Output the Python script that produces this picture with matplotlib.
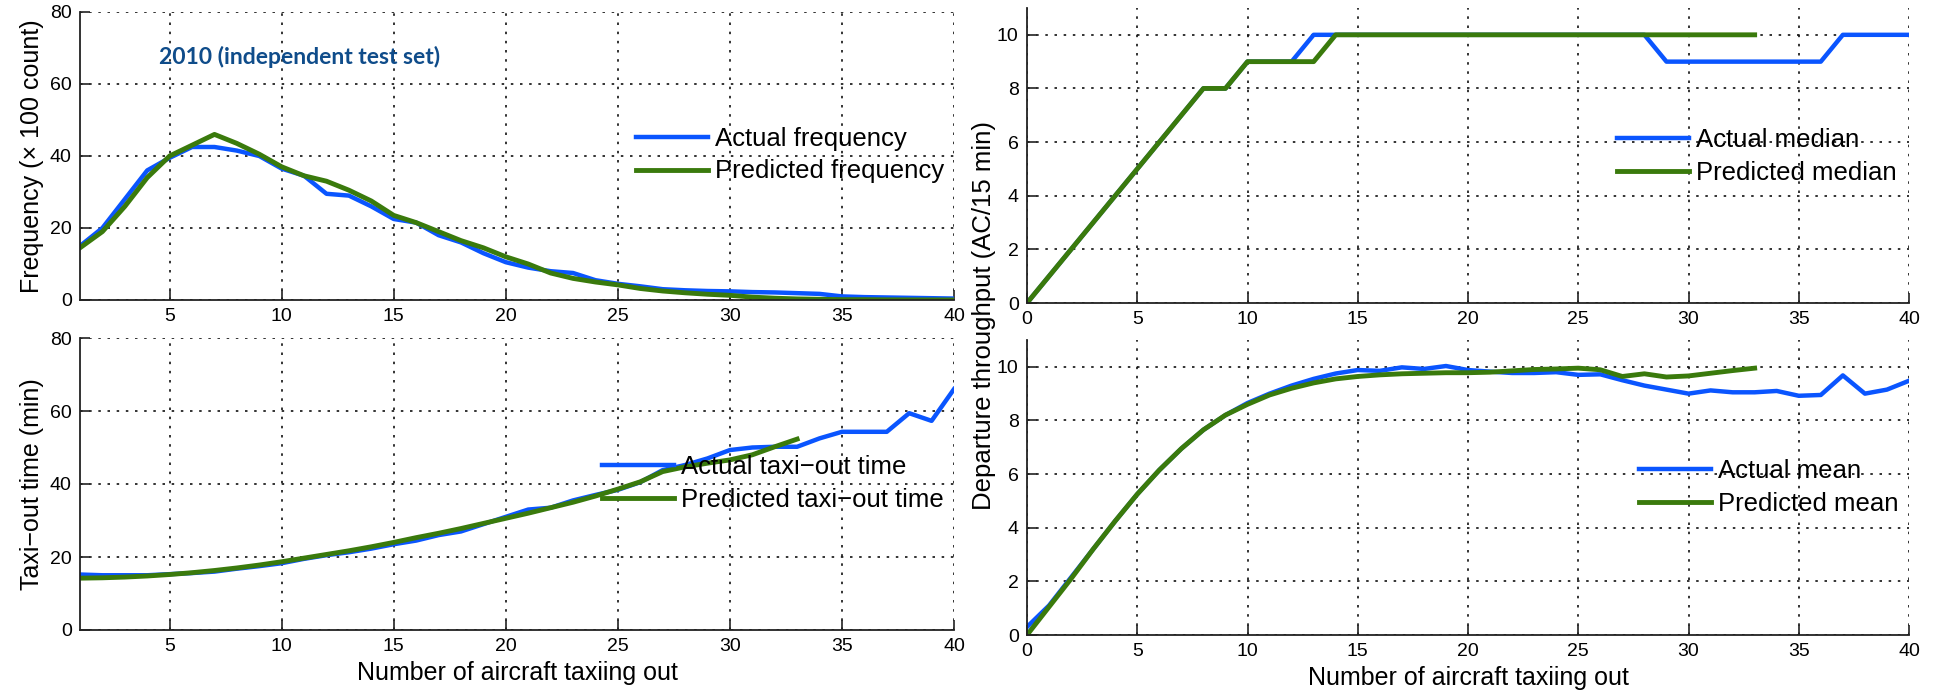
import matplotlib
matplotlib.use('Agg')
import matplotlib.pyplot as plt

plt.rcParams['font.family'] = ['Liberation Sans', 'DejaVu Sans']

# Daten
x_left = list(range(1, 41))
freq_actual = [15, 20, 28, 36, 39.5, 42.5, 42.5, 41.5, 40, 36.5,
               34.5, 29.5, 29, 26, 22.5, 21.5, 18, 16, 13, 10.5,
               9, 8, 7.5, 5.5, 4.5, 3.8, 3, 2.7, 2.5, 2.4,
               2.2, 2.1, 1.9, 1.7, 1.0, 0.8, 0.7, 0.6, 0.5, 0.4]
freq_pred = [14.5, 19, 26, 34, 40, 43, 46, 43.5, 40.5, 37,
             34.5, 33, 30.5, 27.5, 23.5, 21.5, 19, 16.5, 14.5, 12,
             10, 7.5, 6, 5, 4.2, 3.2, 2.5, 2.0, 1.6, 1.3,
             0.8, 0.5, 0.3, 0.2, 0.1, 0.1, 0.05, 0.03, 0.02, 0.01]

taxi_actual = [15.2, 15, 15, 15, 15.3, 15.6, 16, 16.8, 17.5, 18.3,
               19.5, 20.5, 21.3, 22.3, 23.5, 24.5, 26, 27, 29, 31,
               33, 33.5, 35.5, 37, 38.4, 40.5, 43.8, 45.2, 47, 49.3,
               50, 50.2, 50.2, 52.5, 54.3, 54.3, 54.3, 59.4, 57.3, 66]
x_taxi_pred = list(range(1, 34))
taxi_pred = [14.2, 14.3, 14.5, 14.8, 15.2, 15.7, 16.3, 17, 17.8, 18.7,
             19.7, 20.7, 21.7, 22.8, 24, 25.3, 26.5, 27.8, 29.2, 30.6,
             32, 33.5, 35, 36.7, 38.6, 40.6, 43.4, 44.7, 45.7, 46.6,
             48, 50.2, 52.3]

x_right = list(range(0, 41))
x_right_pred = list(range(0, 34))
median_actual = [0, 1, 2, 3, 4, 5, 6, 7, 8, 8, 9, 9, 9, 10, 10, 10, 10, 10, 10, 10,
                 10, 10, 10, 10, 10, 10, 10, 10, 10, 9, 9, 9, 9, 9, 9, 9, 9, 10, 10, 10, 10]
median_pred = [0, 1, 2, 3, 4, 5, 6, 7, 8, 8, 9, 9, 9, 9, 10, 10, 10, 10, 10, 10,
               10, 10, 10, 10, 10, 10, 10, 10, 10, 10, 10, 10, 10, 10]

mean_actual = [0.3, 1.1, 2.15, 3.2, 4.25, 5.25, 6.15, 6.95, 7.65, 8.2,
               8.65, 9.0, 9.3, 9.55, 9.75, 9.88, 9.85, 9.98, 9.92, 10.03,
               9.88, 9.82, 9.77, 9.77, 9.8, 9.7, 9.72, 9.5, 9.3, 9.15,
               9.0, 9.12, 9.05, 9.05, 9.1, 8.92, 8.95, 9.68, 9.0, 9.15, 9.48]
mean_pred = [0, 1.05, 2.1, 3.2, 4.25, 5.25, 6.15, 6.95, 7.65, 8.2,
             8.6, 8.95, 9.2, 9.4, 9.55, 9.64, 9.7, 9.74, 9.76, 9.78,
             9.78, 9.8, 9.85, 9.9, 9.92, 9.95, 9.89, 9.64, 9.74, 9.62,
             9.66, 9.76, 9.86, 9.95]

blue = '#0a55ff'
green = '#3a7a0c'
W, H = 1935, 694


def setup(ax, xlim, xticks, ylim, yticks):
    ax.set_xlim(xlim)
    ax.set_ylim(ylim)
    ax.set_xticks(xticks)
    ax.set_yticks(yticks)
    ax.grid(True, color='#111111', linestyle=(0, (1.5, 4)), linewidth=1.2)
    ax.set_axisbelow(True)
    for s in ['top', 'right']:
        ax.spines[s].set_visible(False)
    for s in ['left', 'bottom']:
        ax.spines[s].set_linewidth(1.3)
        ax.spines[s].set_color('#222222')
    ax.tick_params(direction='in', length=7, width=1.2, labelsize=14, pad=6, color='#222222')


def leg(ax, x_px, y_px):
    ax.legend(loc='center left', bbox_to_anchor=(x_px / W, 1 - y_px / H),
              bbox_transform=fig.transFigure, frameon=False, fontsize=18.5,
              handlelength=2.8, handletextpad=0.28, labelspacing=0.35,
              borderpad=0, borderaxespad=0)


fig = plt.figure(figsize=(W / 100, H / 100), dpi=100)

ax1 = fig.add_axes([80 / W, 1 - 300 / H, 874 / W, 288 / H])
ax2 = fig.add_axes([80 / W, 1 - 630 / H, 874 / W, 292 / H])
ax3 = fig.add_axes([1027 / W, 1 - 303 / H, 882 / W, 295 / H])
ax4 = fig.add_axes([1027 / W, 1 - 635 / H, 882 / W, 295 / H])

ax1.plot(x_left, freq_actual, color=blue, lw=3.2, label='Actual frequency')
ax1.plot(x_left, freq_pred, color=green, lw=3.5, label='Predicted frequency')
setup(ax1, (1, 40), range(5, 41, 5), (0, 80), range(0, 81, 20))
ax1.set_ylabel('Frequency (× 100 count)', fontsize=18)
leg(ax1, 636, 155)

ax2.plot(x_left, taxi_actual, color=blue, lw=3.2, label='Actual taxi\u2212out time')
ax2.plot(x_taxi_pred, taxi_pred, color=green, lw=3.5, label='Predicted taxi\u2212out time')
setup(ax2, (1, 40), range(5, 41, 5), (0, 80), range(0, 81, 20))
ax2.set_ylabel('Taxi\u2212out time (min)', fontsize=18)
ax2.set_xlabel('Number of aircraft taxiing out', fontsize=18)
leg(ax2, 602, 483.5)

ax3.plot(x_right, median_actual, color=blue, lw=3.2, label='Actual median')
ax3.plot(x_right_pred, median_pred, color=green, lw=3.5, label='Predicted median')
setup(ax3, (0, 40), range(0, 41, 5), (0, 11), range(0, 11, 2))
leg(ax3, 1617, 156.5)

ax4.plot(x_right, mean_actual, color=blue, lw=3.2, label='Actual mean')
ax4.plot(x_right_pred, mean_pred, color=green, lw=3.5, label='Predicted mean')
setup(ax4, (0, 40), range(0, 41, 5), (0, 11), range(0, 11, 2))
ax4.set_xlabel('Number of aircraft taxiing out', fontsize=18)
leg(ax4, 1639, 487.5)

fig.text(984 / W, 1 - 316 / H, 'Departure throughput (AC/15 min)', rotation=90,
         ha='center', va='center', fontsize=18.5)

fig.text(159 / W, 1 - 57 / H, '2010 (independent test set)', ha='left', va='center',
         fontsize=16.5, fontweight='bold', family='Lato', color='#0f4c8a')

fig.savefig('out.png', dpi=100)
